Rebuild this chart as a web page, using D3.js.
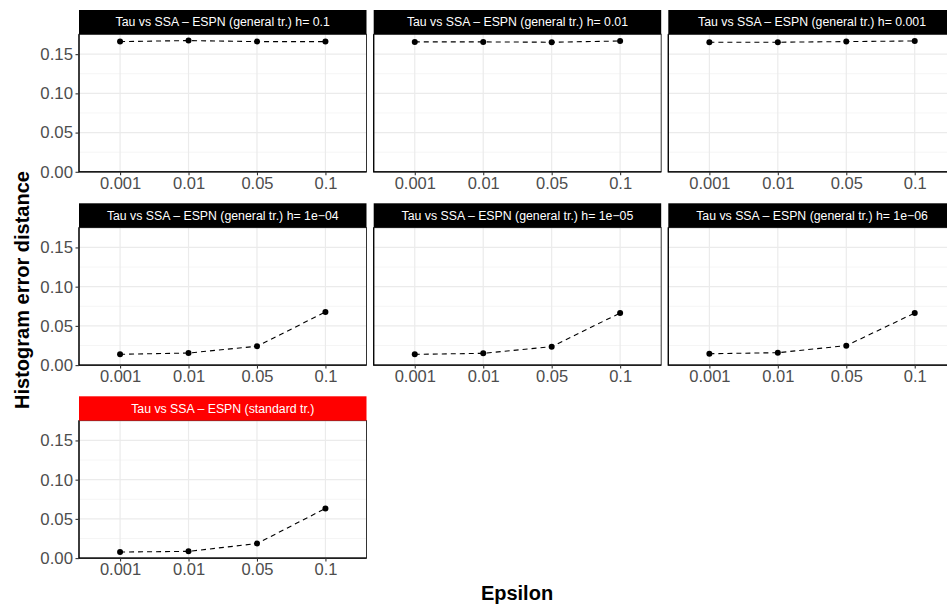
<!DOCTYPE html>
<html>
<head>
<meta charset="utf-8">
<script src="https://cdn.jsdelivr.net/npm/d3@7"></script>
<style>
  body { margin: 0; background: #fff; }
  svg { display: block; font-family: "Liberation Sans", Arial, sans-serif; }
</style>
</head>
<body>
<svg id="chart" width="947" height="607"></svg>
<script>
// x categories (epsilon)
const epsilon = ["0.001", "0.01", "0.05", "0.1"];

// facet titles
const panelTitles = [
    "Tau vs SSA \u2013 ESPN (general tr.) h= 0.1",
    "Tau vs SSA \u2013 ESPN (general tr.) h= 0.01",
    "Tau vs SSA \u2013 ESPN (general tr.) h= 0.001",
    "Tau vs SSA \u2013 ESPN (general tr.) h= 1e\u221204",
    "Tau vs SSA \u2013 ESPN (general tr.) h= 1e\u221205",
    "Tau vs SSA \u2013 ESPN (general tr.) h= 1e\u221206",
    "Tau vs SSA \u2013 ESPN (standard tr.)"
];

// histogram error distance per panel
const h_0_1 = [0.166, 0.1673, 0.166, 0.166];
const h_0_01 = [0.1656, 0.1656, 0.1652, 0.1668];
const h_0_001 = [0.1652, 0.1652, 0.166, 0.1668];
const h_1e4 = [0.0138, 0.0154, 0.024, 0.0677];
const h_1e5 = [0.0137, 0.015, 0.0235, 0.0664];
const h_1e6 = [0.0145, 0.0158, 0.0248, 0.0664];
const standard = [0.0077, 0.0086, 0.0185, 0.0633];

const series = [h_0_1, h_0_01, h_0_001, h_1e4, h_1e5, h_1e6, standard];

const yTicks = [0, 0.05, 0.10, 0.15];
const yMinor = [0.025, 0.075, 0.125, 0.175];

const svg = d3.select("#chart");

// facet layout
const colLeft = [79, 373.7, 668.3];
const rowTop = [10, 203.3, 396.3];
const panelW = 287.5;
const stripH = 24.3;
const panelH = 137.5;

const x = d3.scalePoint()
    .domain(epsilon)
    .range([0, panelW])
    .padding(0.6);

const y = d3.scaleLinear()
    .domain([0, 0.1753])
    .range([panelH, 0]);

const line = d3.line()
    .x((d, i) => x(epsilon[i]))
    .y(d => y(d));

series.forEach((vals, k) => {
    const col = k % 3;
    const row = Math.floor(k / 3);
    const g = svg.append("g")
        .attr("transform", `translate(${colLeft[col]},${rowTop[row] + stripH})`);

    // panel background + grid
    g.append("rect").attr("width", panelW).attr("height", panelH).attr("fill", "#fff");

    g.selectAll(".minor").data(yMinor).enter().append("line")
        .attr("x1", 0).attr("x2", panelW)
        .attr("y1", d => y(d)).attr("y2", d => y(d))
        .attr("stroke", "#f2f2f2").attr("stroke-width", 0.8);

    g.selectAll(".ymajor").data(yTicks).enter().append("line")
        .attr("x1", 0).attr("x2", panelW)
        .attr("y1", d => y(d)).attr("y2", d => y(d))
        .attr("stroke", "#ebebeb").attr("stroke-width", 1.2);

    g.selectAll(".xmajor").data(epsilon).enter().append("line")
        .attr("x1", d => x(d)).attr("x2", d => x(d))
        .attr("y1", 0).attr("y2", panelH)
        .attr("stroke", "#ebebeb").attr("stroke-width", 1.2);

    // data
    g.append("path")
        .datum(vals)
        .attr("fill", "none")
        .attr("stroke", "#000")
        .attr("stroke-width", 1.1)
        .attr("stroke-dasharray", "5,4")
        .attr("d", line);

    g.selectAll("circle").data(vals).enter().append("circle")
        .attr("cx", (d, i) => x(epsilon[i]))
        .attr("cy", d => y(d))
        .attr("r", 3)
        .attr("fill", "#000");

    // border
    g.append("rect").attr("width", panelW).attr("height", panelH)
        .attr("fill", "none").attr("stroke", "#333").attr("stroke-width", 1);
    g.append("path")
        .attr("d", `M0,0V${panelH}H${panelW}`)
        .attr("fill", "none").attr("stroke", "#000").attr("stroke-width", 1.2);

    // y axis only on the first column (fixed scales)
    if (col === 0) {
        const yAxis = d3.axisLeft(y).tickValues(yTicks).tickFormat(d3.format(".2f"))
            .tickSize(3.5).tickPadding(2.5);
        const ya = g.append("g").call(yAxis);
        ya.select(".domain").remove();
        ya.selectAll("line").attr("stroke", "#333").attr("stroke-width", 1.1);
        ya.selectAll("text").attr("fill", "#4d4d4d").style("font-size", "16.8px")
            .attr("font-family", "Liberation Sans, Arial, sans-serif");
    }

    const xAxis = d3.axisBottom(x).tickSize(3.5).tickPadding(2);
    const xa = g.append("g").attr("transform", `translate(0,${panelH})`).call(xAxis);
    xa.select(".domain").remove();
    xa.selectAll("line").attr("stroke", "#333").attr("stroke-width", 1.1);
    xa.selectAll("text").attr("fill", "#4d4d4d").style("font-size", "16.5px")
        .attr("font-family", "Liberation Sans, Arial, sans-serif");

    // strip
    svg.append("rect")
        .attr("x", colLeft[col]).attr("y", rowTop[row])
        .attr("width", panelW).attr("height", stripH)
        .attr("fill", k === 6 ? "#ff0000" : "#000");
    svg.append("text")
        .attr("x", colLeft[col] + panelW / 2)
        .attr("y", rowTop[row] + stripH / 2)
        .attr("dy", "0.35em")
        .attr("text-anchor", "middle")
        .attr("fill", "#fff")
        .style("font-size", "12.3px")
        .text(panelTitles[k]);
});

// axis titles
svg.append("text")
    .attr("x", 517).attr("y", 600)
    .attr("text-anchor", "middle")
    .style("font-size", "20px").style("font-weight", "bold")
    .text("Epsilon");

svg.append("text")
    .attr("transform", "translate(29,290) rotate(-90)")
    .attr("text-anchor", "middle")
    .style("font-size", "20px").style("font-weight", "bold")
    .text("Histogram error distance");
</script>
</body>
</html>
